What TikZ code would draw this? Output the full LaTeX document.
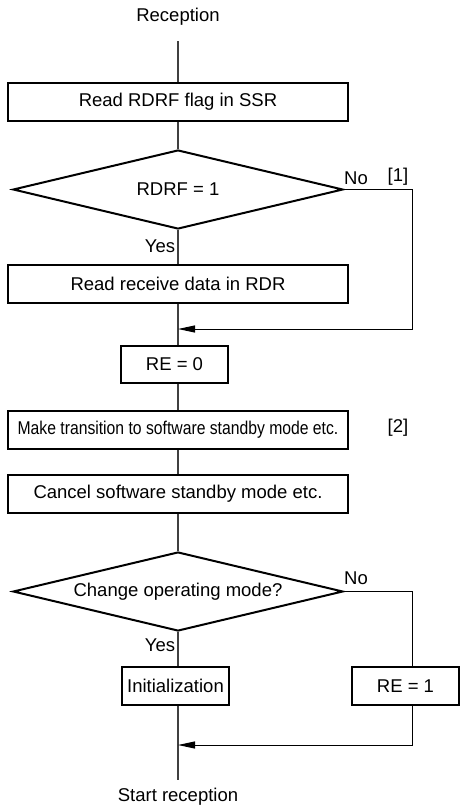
\documentclass[tikz,border=0pt]{standalone}
\usepackage{fontspec}
\setmainfont{Liberation Sans}
\usetikzlibrary{shapes.geometric,arrows.meta}

\begin{document}
\begin{tikzpicture}[x=1pt, y=-1pt, >={Triangle[length=17pt,width=7pt]},
    font=\fontsize{18.5}{22}\selectfont,
    box/.style={draw, line width=2pt, minimum height=38pt, inner sep=2pt},
    wide/.style={box, minimum width=340pt},
    small/.style={box, minimum width=107pt},
    decide/.style={draw, line width=2pt, diamond, aspect=4.2, inner sep=1pt,
      minimum width=330pt, minimum height=79pt},
    flow/.style={line width=1.3pt, black!75},
    side/.style={line width=1pt}]
    \useasboundingbox (0,0) rectangle (461,809);

    \node (recep) at (178,17) {Reception};
    \coordinate (top) at (178,41);

    \node[wide] (rdrf) at (178,101.5) {Read RDRF flag in SSR};
    \node[decide] (chk1) at (178,189.5) {RDRF = 1};
    \node[wide] (data) at (178,283.5) {Read receive data in RDR};
    \coordinate (m1) at (178,329);
    \node[small, minimum height=37pt] (re0) at (174.5,364.5) {RE = 0};
    \node[wide, minimum height=38pt] (trans) at (178,430)
      {\addfontfeature{FakeStretch=0.85}Make transition to software standby mode etc.};
    \node[wide] (cancel) at (178,494) {Cancel software standby mode etc.};
    \node[decide] (chk2) at (178,591.5) {Change operating mode?};
    \node[small] (init) at (175.5,686) {Initialization};
    \node[small] (re1) at (405.5,686) {RE = 1};
    \coordinate (m2) at (178,745);
    \coordinate (bot) at (178,780);
    \node (start) at (178,797) {Start reception};

    % main line
    \draw[flow] (top) -- (rdrf.north);
    \draw[flow] (rdrf.south) -- (chk1.north);
    \draw[flow] (chk1.south) -- (data.north);
    \draw[flow] (data.south) -- (data.south |- re0.north);
    \draw[flow] (data.south |- re0.south) -- (trans.north);
    \draw[flow] (trans.south) -- (cancel.north);
    \draw[flow] (cancel.south) -- (chk2.north);
    \draw[flow] (chk2.south) -- (chk2.south |- init.north);
    \draw[flow] (chk2.south |- init.south) -- (bot);

    \node at (160,246) {Yes};
    \node at (160,645) {Yes};

    % no branches
    \draw[side, ->] (chk1.east) -- ++(68,0) |- (m1);
    \node at (356,178) {No};
    \node at (398,177) {[1]};
    \node at (398,428) {[2]};

    \draw[side] (chk2.east) -- ++(68,0) coordinate (n2) -- (n2 |- re1.north);
    \draw[side, ->] (n2 |- re1.south) |- (m2);
    \node at (356,578) {No};
  \end{tikzpicture}
\end{document}
